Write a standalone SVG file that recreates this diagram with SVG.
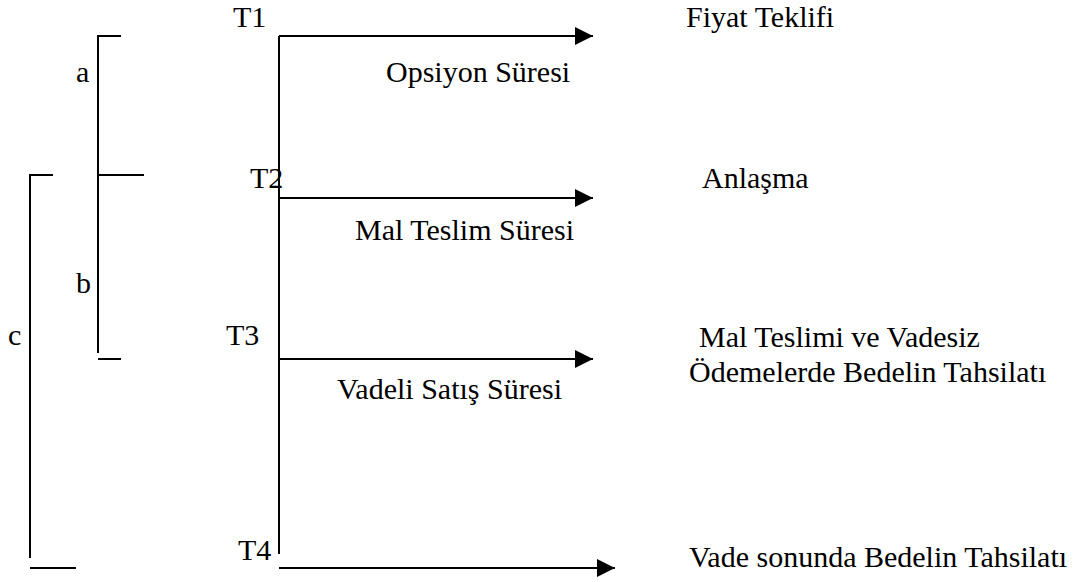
<svg xmlns="http://www.w3.org/2000/svg" width="1083" height="582" viewBox="0 0 1083 582">
  <style>
    .ln { stroke: #000; stroke-width: 2; fill: none; }
    text { font-family: "Liberation Serif", Tinos, "Times New Roman", Times, "DejaVu Serif", "Noto Serif", serif; font-size: 30px; fill: #000; }
  </style>
  <defs>
    <marker id="head" markerUnits="userSpaceOnUse" markerWidth="18" markerHeight="18" refX="18" refY="9" orient="auto">
      <path d="M0,0 L18,9 L0,18 Z" fill="#000"/>
    </marker>
  </defs>
  <rect width="1083" height="582" fill="#fff"/>

  <!-- span brackets on the left -->
  <g id="bracket-a">
    <path class="ln" d="M121,36 H98 V175 H144"/>
    <text x="76" y="82">a</text>
  </g>
  <g id="bracket-b">
    <path class="ln" d="M98,175 V353 M98,359 H121"/>
    <text x="76" y="293">b</text>
  </g>
  <g id="bracket-c">
    <path class="ln" d="M53,175 H30 V558 M30,568 H76"/>
    <text x="8" y="345">c</text>
  </g>

  <!-- time points -->
  <g id="t1"><text x="233" y="27">T1</text></g>
  <g id="t2"><text x="250" y="188">T2</text></g>
  <g id="t3"><text x="226" y="345">T3</text></g>
  <g id="t4"><text x="238" y="560">T4</text></g>

  <!-- events -->
  <g id="fiyat-teklifi"><text x="686" y="27">Fiyat Teklifi</text></g>
  <g id="anlasma"><text x="702" y="188">Anlaşma</text></g>
  <g id="mal-teslimi">
    <text x="699" y="347">Mal Teslimi ve Vadesiz</text>
    <text x="689" y="382">Ödemelerde Bedelin Tahsilatı</text>
  </g>
  <g id="vade-sonu"><text x="689" y="567">Vade sonunda Bedelin Tahsilatı</text></g>

  <!-- period labels -->
  <g id="opsiyon"><text x="386" y="82">Opsiyon Süresi</text></g>
  <g id="mal-teslim-suresi"><text x="355" y="240">Mal Teslim Süresi</text></g>
  <g id="vadeli-satis"><text x="337" y="399">Vadeli Satış Süresi</text></g>

  <!-- timeline and arrows -->
  <g id="connectors">
    <path class="ln" d="M279,36 V554"/>
    <path class="ln" d="M279,36 H593" marker-end="url(#head)"/>
    <path class="ln" d="M279,198 H593" marker-end="url(#head)"/>
    <path class="ln" d="M279,359 H593" marker-end="url(#head)"/>
    <path class="ln" d="M279,568 H615" marker-end="url(#head)"/>
  </g>
</svg>
